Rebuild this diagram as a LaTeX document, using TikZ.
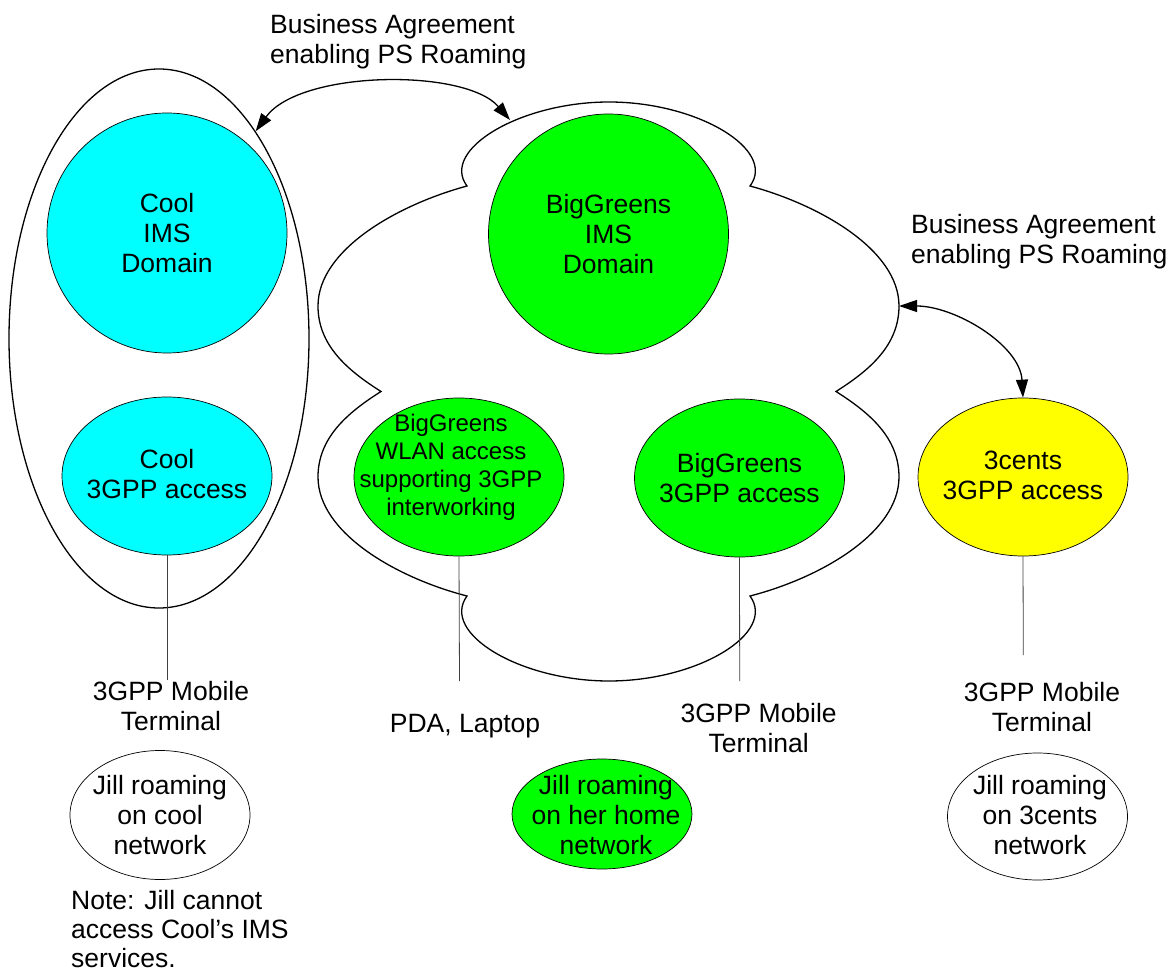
\documentclass[tikz,border=0pt]{standalone}
\usepackage{fontspec}
\setmainfont{Liberation Sans}
\usetikzlibrary{shapes.geometric,arrows.meta}
\definecolor{coolcyan}{RGB}{0,255,255}
\definecolor{biggreen}{RGB}{0,255,0}
\definecolor{centsyellow}{RGB}{255,255,0}
\begin{document}
\begin{tikzpicture}[x=1pt,y=-1pt,
  lbl/.style={font=\fontsize{26.5}{30}\selectfont, align=center, inner sep=0pt},
  lbll/.style={font=\fontsize{26.5}{30}\selectfont, align=left, inner sep=0pt, anchor=west},
  smalllbl/.style={font=\fontsize{24}{28}\selectfont, align=center, inner sep=0pt},
  blob/.style={ellipse, draw=black, line width=0.7pt, inner sep=0pt},
  imscircle/.style={blob, minimum width=240pt, minimum height=240pt},
  accessoval/.style={blob, minimum width=210pt, minimum height=158pt},
  jilloval/.style={blob, minimum width=180pt},
  outline/.style={draw=black, line width=1.3pt},
  conn/.style={draw=black!75, line width=0.8pt},
  arr/.style={line width=1.3pt, {Triangle[length=18pt,width=12pt]}-{Triangle[length=18pt,width=12pt]}}]
\useasboundingbox (0,0) rectangle (1171,976);

% Cool network
\node[ellipse, outline, inner sep=0pt, minimum width=300pt, minimum height=539pt] (coolnet) at (159,338.5) {};
\node[imscircle, fill=coolcyan] (coolims) at (167,233) {};
\node[lbl] (coolimstext) at (coolims) {Cool\\IMS\\Domain};
\node[accessoval, fill=coolcyan] (coolacc) at (167,476) {};
\node[lbl] (coolacctext) at (167,474.5) {Cool\\3GPP access};

% BigGreens cloud
\coordinate (bgtop) at (510,120);
\coordinate (bgright) at (899,306);
\draw[outline] (467,186) .. controls (440,150) and (520,102) .. (609,102)
  .. controls (698,102) and (777,150) .. (750,186)
  .. controls (820,205) and (899,250) .. (899,306)
  .. controls (899,345) and (870,370) .. (836,391.5)
  .. controls (870,413) and (899,438) .. (899,477)
  .. controls (899,533) and (820,578) .. (750,596)
  .. controls (777,633) and (698,681) .. (609,681)
  .. controls (520,681) and (440,633) .. (467,596)
  .. controls (397,578) and (318,533) .. (318,477)
  .. controls (318,438) and (347,413) .. (381,391.5)
  .. controls (347,370) and (318,345) .. (318,306)
  .. controls (318,250) and (397,205) .. cycle;
\node[imscircle, fill=biggreen] (bgims) at (608.5,234) {};
\node[lbl] (bgimstext) at (bgims) {BigGreens\\IMS\\Domain};
\node[accessoval, fill=biggreen] (wlan) at (459,477) {};
\node[smalllbl] (wlantext) at (451,467.5) {BigGreens\\WLAN access\\supporting 3GPP\\interworking};
\node[accessoval, fill=biggreen] (bgacc) at (739.5,478) {};
\node[lbl] (bgacctext) at (bgacc) {BigGreens\\3GPP access};

% 3cents
\node[accessoval, fill=centsyellow] (tcacc) at (1023,477) {};
\node[lbl] (tcacctext) at (1023,475.5) {3cents\\3GPP access};

% Business agreements
\node[lbll] (ba1) at (270,41.5) {Business Agreement\\enabling PS Roaming};
\node[lbll] (ba2) at (911,241.5) {Business Agreement\\enabling PS Roaming};
\draw[arr] (coolnet.65) .. controls (300,70) and (465,68) .. (bgtop);
\draw[arr] (bgright) .. controls (955,306) and (1020,345) .. (tcacc.north);

% terminals
\coordinate (t1) at (167,680);
\coordinate (t2) at (459.5,681);
\coordinate (t3) at (739.7,681);
\coordinate (t4) at (1023.3,655);
\draw[conn] (coolacc.south) -- (t1);
\draw[conn] (wlan.south) -- (t2);
\draw[conn] (bgacc.south) -- (t3);
\draw[conn] (tcacc.south) -- (t4);
\node[lbl] (term1) at (171,706) {3GPP Mobile\\Terminal};
\node[lbl] (pda) at (465,726) {PDA, Laptop};
\node[lbl] (term2) at (758.7,728) {3GPP Mobile\\Terminal};
\node[lbl] (term3) at (1042,707) {3GPP Mobile\\Terminal};

% Jill
\node[jilloval, minimum height=129pt] (jill1) at (160,815) {};
\node[lbl] (jill1text) at (160,815) {Jill roaming\\on cool\\network};
\node[jilloval, fill=biggreen, minimum height=110pt] (jill2) at (602,814) {};
\node[lbl] (jill2text) at (606,815) {Jill roaming\\on her home\\network};
\node[jilloval, minimum height=127pt] (jill3) at (1037.5,816.5) {};
\node[lbl] (jill3text) at (1040,815) {Jill roaming\\on 3cents\\network};

% Note
\node[lbll, font=\fontsize{26.5}{29}\selectfont] (note) at (71,929) {Note: Jill cannot\\access Cool’s IMS\\services.};
\end{tikzpicture}
\end{document}
